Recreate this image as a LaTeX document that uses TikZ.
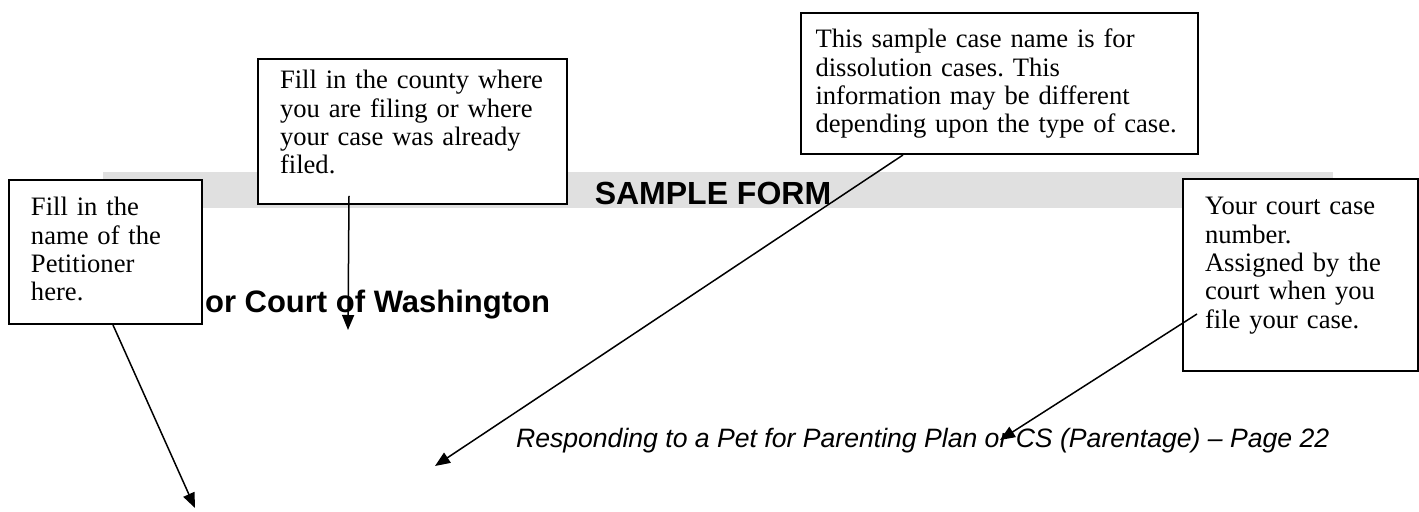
\documentclass[tikz,border=0pt]{standalone}
\usepackage{fontspec}
\setmainfont{Liberation Serif}
\setsansfont{Liberation Sans}
\usepackage{xcolor}
\usepackage{tikz}
\usetikzlibrary{arrows.meta,positioning}
\definecolor{ink}{HTML}{000000}
\definecolor{band}{HTML}{E0E0E0}
\tikzset{
  notebox/.style={draw=ink,line width=1pt,fill=white,align=left,anchor=north west,
    inner xsep=11pt,inner ysep=0pt,font={\frenchspacing\fontsize{13.3}{14.15}\selectfont}},
  notearrow/.style={-{Triangle[length=7.5pt,width=6pt]},line width=0.75pt,draw=ink},
  headtext/.style={font={\sffamily\bfseries\fontsize{16}{19}\selectfont},anchor=base},
  foottext/.style={font={\sffamily\itshape\fontsize{13.3}{16}\selectfont},anchor=base west}
}

\begin{document}
\begin{tikzpicture}[x=0.5pt,y=-0.5pt]
\useasboundingbox (0,0) rectangle (1419,512);
\fill[band] (103,172) rectangle (1333,208);
\node[headtext] (sample) at (713,205) {SAMPLE FORM};
\node[headtext,anchor=base west,font={\sffamily\bfseries\fontsize{15.5}{18}\selectfont}] (court) at (198,313) {or Court of Washington};
\node[foottext] (footer) at (509,448) {Responding to a Pet for Parenting Plan or CS (Parentage) – Page 22};
\node[notebox,text width=74.5pt,text height=18pt,text depth=54pt] (petbox) at (8,179) {Fill in the\\name of the\\Petitioner\\here.};
\node[notebox,text width=132.5pt,text height=15pt,text depth=57.5pt] (countybox) at (257,58) {Fill in the county where\\you are filing or where\\your case was already\\filed.};
\node[notebox,inner xsep=7.25pt,text width=184pt,text height=17.5pt,text depth=53pt] (casebox) at (800,12) {This sample case name is for\\dissolution cases. This\\information may be different\\depending upon the type of case.};
\node[notebox,text width=95.5pt,text height=18pt,text depth=78pt] (numbox) at (1182,178) {Your court case\\number.\\Assigned by the\\court when you\\file your case.};
\coordinate (pettip) at (195,508);
\coordinate (countytip) at (348,330);
\coordinate (casetip) at (435,466);
\coordinate (numtip) at (1000,440);
\draw[notearrow] ([xshift=3.75pt]petbox.south) -- (pettip);
\draw[notearrow] ([shift={(-31.75pt,4.5pt)}]countybox.south) -- (countytip);
\draw[notearrow] ([xshift=-48.25pt]casebox.south) -- (casetip);
\draw[notearrow] ([shift={(7.5pt,-19.5pt)}]numbox.west) -- (numtip);
\end{tikzpicture}
\end{document}
